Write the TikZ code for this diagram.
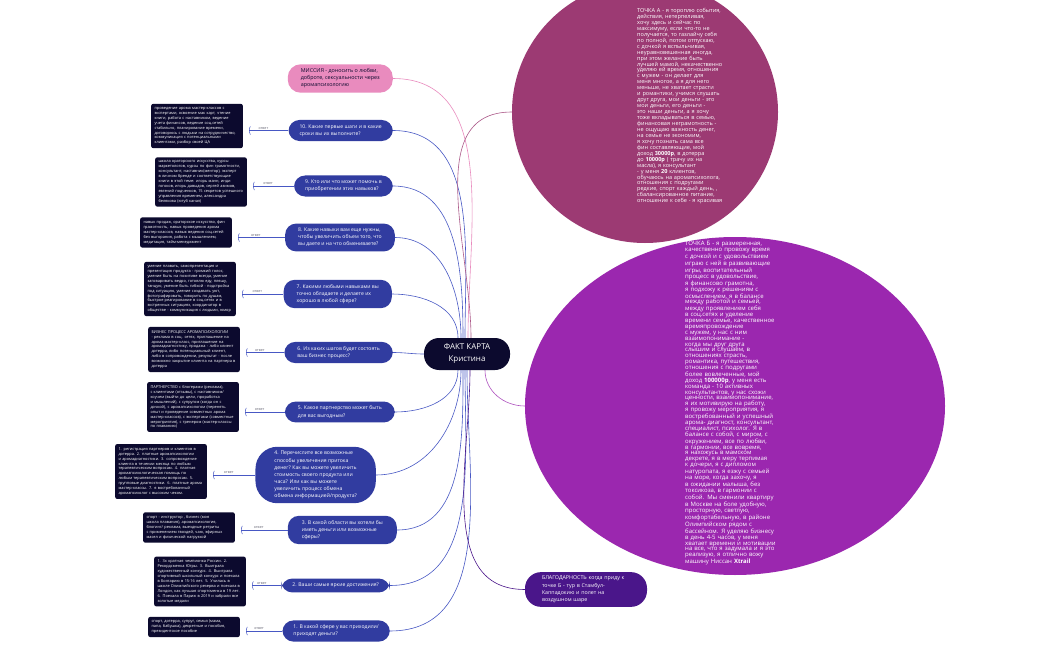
\documentclass[tikz,border=0pt]{standalone}
\usepackage{fontspec}
\setmainfont{Open Sans}
\usepackage{tikz}
\usetikzlibrary{arrows.meta, positioning, shapes.geometric}
\definecolor{FKNavy}{RGB}{12, 10, 46}
\definecolor{FKBlue}{RGB}{49, 60, 160}
\definecolor{FKLine}{RGB}{72, 88, 196}
\definecolor{FKPink}{RGB}{233, 139, 190}
\definecolor{FKPointA}{RGB}{156, 58, 115}
\definecolor{FKPointB}{RGB}{155, 39, 175}
\definecolor{FKThanks}{RGB}{74, 22, 138}
\definecolor{FKLabel}{RGB}{100, 100, 115}

\tikzset{
  question/.style={fill=FKBlue, text=white, rounded corners=11pt, align=left, anchor=east,
    inner xsep=11pt, inner ysep=4.5pt, font=\fontsize{5.1}{7.1}\selectfont},
  answer/.style={fill=FKNavy, text=white, rounded corners=2pt, align=left, anchor=east,
    text width=85pt, inner sep=3.3pt, font=\fontsize{3.9}{4.95}\selectfont},
  reply/.style={draw=FKLine, line width=0.5pt, -{Parenthesis[width=10pt,length=2.5pt]}, shorten >=6pt},
  replylabel/.style={text=FKLabel, font=\fontsize{3.6}{4}\selectfont, above=1.2pt, inner sep=0pt, pos=0.55},
  branch/.style={draw=FKLine, line width=0.6pt},
  pointshape/.style={ellipse, inner sep=0pt},
  pointtext/.style={text=white, align=left, anchor=north west, inner sep=0pt},
}

\begin{document}
\begin{tikzpicture}[x=1pt,y=-1pt]
  \path[use as bounding box] (0,0) rectangle (1050,650);
  \clip (0,0) rectangle (1050,650);
  \fill[white] (0,0) rectangle (1050,650);

  % Точка А
  \node[pointshape, fill=FKPointA, minimum width=266pt, minimum height=262pt] (pointA) at (645,112) {};
  \node[pointtext, text width=87pt, font=\fontsize{5.55}{5.95}\selectfont] (pointAtext) at (637,8) {ТОЧКА А - я тороплю события, действия, нетерпеливая, хочу здесь и сейчас по максимуму, если что-то не получается, то газлайчу себя по полной, потом отпускаю, с дочкой я вспыльчивая, неуравновешенная иногда, при этом желание быть лучшей мамой, некачественно уделяю ей время, отношения с мужем - он делает для меня многое, а я для него меньше, не хватает страсти и романтики, учимся слушать друг друга, мои деньги - это мои деньги, его деньги - это наши деньги, а я хочу тоже вкладываться в семью, финансовая неграмотность - не ощущаю важность денег, на семье не экономим, я хочу познать сама все фин составляющие, мой доход {\bfseries 30000р}, в дотерра до {\bfseries 10000р} ( трачу их на масла), я консультант - у меня {\bfseries 20} клиентов, обучаюсь на аромапсихолога, отношения с подругами редкие, спорт каждый день, , сбалансированное питание, отношение к себе - я красивая};

  % Точка Б
  \node[pointshape, fill=FKPointB, minimum width=420pt, minimum height=338pt] (pointB) at (735,406) {};
  \node[pointtext, text width=91pt, font=\fontsize{6.0}{5.85}\selectfont] (pointBtext) at (685,241) {ТОЧКА Б - я размеренная, качественно провожу время с дочкой и с удовольствием играю с ней в развивающие игры, воспитательный процесс в удовольствие, я финансово грамотна, я подхожу к решениям с осмыслением, я в балансе между работой и семьей, между проявлением себя в соц.сетях и уделение времени семье, качественное времяпровождение с мужем, у нас с ним взаимопонимание - когда мы друг друга слышим и слушаем, в отношениях страсть, романтика, путешествия, отношения с подругами более вовлеченные, мой доход {\bfseries 100000р}, у меня есть команда - 10 активных консультантов, у нас схожи ценности, взаимопонимание, я их мотивирую на работу, я провожу мероприятия, я востребованный и успешный арома- диагност, консультант, специалист, психолог. Я в балансе с собой, с миром, с окружением, все по любви, в гармонии, все вовремя, я нахожусь в мамском декрете, я в меру терпимая к дочери, я с дипломом натуропата, я езжу с семьей на море, когда захочу, я в ожидании малыша, без токсикоза, в гармонии с собой. Мы сменили квартиру в Москве на боле удобную, просторную, светлую, комфортабельную, в районе Олимпийском рядом с бассейном. Я уделяю бизнесу в день 4-5 часов, у меня хватает времени и мотивации на все, что я задумала и я это реализую, я отлично вожу машину Ниссан {\bfseries Xtrail}};

  % Центр
  \node[fill=FKNavy, text=white, rounded corners=15pt, align=center, minimum width=86pt,
        minimum height=32pt, font=\fontsize{8}{12}\selectfont] (fact) at (467,354) {ФАКТ КАРТА\\Кристина};

  % Миссия и благодарность
  \node[fill=FKPink, text=FKNavy, rounded corners=13pt, align=left, anchor=east, inner xsep=13pt,
        inner ysep=4.5pt, font=\fontsize{5.4}{7}\selectfont] (mission) at (393,78.5)
        {МИССИЯ - доносить о любви,\\доброте, сексуальности через\\аромапсихологию};
  \node[fill=FKThanks, text=white, rounded corners=16pt, align=left, inner xsep=17pt, inner ysep=4pt,
        text width=88pt, font=\fontsize{5.3}{7.2}\selectfont] (thanks) at (586,589.5)
        {БЛАГОДАРНОСТЬ когда приду к\\точке Б - тур в Стамбул-\\Каппадокию и полет на\\воздушном шаре};

  % Вопросы
  \node[question] (q10) at (393,130.5) {10. Какие первые шаги и в какие\\сроки вы их выполните?};
  \node[question] (q9) at (393,186) {9. Кто или что может помочь в\\приобретении этих навыков?};
  \node[question, inner xsep=13pt] (q8) at (395,237.5) {8. Какие навыки вам еще нужны,\\чтобы увеличить объем того, что\\вы даете и на что обмениваете?};
  \node[question, inner xsep=13pt] (q7) at (392,294) {7. Какими любыми навыками вы\\точно обладаете и делаете их\\хорошо в любой сфере?};
  \node[question, inner xsep=13pt] (q6) at (393,352.5) {6. Из каких шагов будет состоять\\ваш бизнес процесс?};
  \node[question, inner xsep=13pt] (q5) at (395,412) {5. Какое партнерство может быть\\для вас выгодным?};
  \node[question, inner xsep=19pt, rounded corners=22pt] (q4) at (376,475) {4. Перечислите все возможные\\способы увеличения притока\\денег? Как вы можете увеличить\\стоимость своего продукта или\\часа? Или как вы можете\\увеличить процесс обмена\\обмена информацией/продукта?};
  \node[question, inner xsep=14pt] (q3) at (397,530) {3. В какой области вы хотели бы\\иметь деньги или возможные\\сферы?};
  \node[question] (q2) at (390,585.5) {2. Ваши самые яркие достижения?};
  \node[question] (q1) at (390,631) {1. В какой сфере у вас приходили/\\приходят деньги?};

  % Ответы
  \node[answer] (a10) at (243,126) {проведение арома мастер-классов с экспертами, освоение мак карт, чтение книги, работа с наставником, ведение учета финансов, ведение соц.сетей стабильно, планирование времени, договорюсь с людьми на сотрудничество, коммуникация с потенциальными клиентами, разбор своей ЦА};
  \node[answer] (a9) at (247,182) {школа ораторского искусства, курсы маркетологов, курсы по фин грамотности, консультант, наставник(ментор), эксперт в личном бренде и соответствующие книги в этой теме: игорь манн, инди гогоков, игорь давыдов, сергей азимов, евгений подченков, 15 секретов успешного управления временем, александра белякова (ютуб канал)};
  \node[answer] (a8) at (232,232.5) {навык продаж, ораторское искусство, фин грамотность, навык проведения арома мастер-классов, навык ведения соц.сетей без выгорания, работа с мышлением, медитация, тайм-менеджмент};
  \node[answer] (a7) at (236,289) {умение плавать, самопрезентация и презентация продукта - громкий голос, умение быть на позитиве всегда, умение заговаривать ведро, готовлю еду, пляшу, танцую, умение быть гибкой - подстройка под ситуацию, умение создавать уют, фотографировать, говорить по душам, быстрое реагирование в соц.сетях и в экстренных ситуациях, координатор в обществе - коммуникация с людьми, юмор};
  \node[answer] (a6) at (240,349.5) {БИЗНЕС ПРОЦЕСС АРОМАПСИХОЛОГИИ - реклама в соц. сетях, приглашение на арома мастер-класс, приглашение на аромадиагностику, продажа - либо клиент дотерра, либо потенциальный клиент, либо в сопровождении, результат - после возможно закрытие клиента на партнера в дотерра};
  \node[answer] (a5) at (239,407) {ПАРТНЕРСТВО с блогерами (реклама), с клиентами (отзывы), с наставником/ коучем (выйти до цели, проработка и мышлений), с супругом (когда он с дочкой), с аромапсихологом (перенять опыт и проведение совместных арома мастер-классов), с экспертами (совместные мероприятия), с тренером (мастер-классы по плаванию)};
  \node[answer] (a4) at (207,471.5) {1. регистрация партнеров и клиентов в дотерра. 2. платные аромапсихологии и аромадиагностики. 3. сопровождение клиента в течении месяца по любым терапевтическим вопросам. 4. платная аромапсихологическая помощь по любым терапевтическим вопросам. 5. групповые диагностики. 6. платные арома мастер-классы. 7. я востребованный аромапсихолог с высоким чеком.};
  \node[answer] (a3) at (235,527.5) {спорт - инструктор , бизнес (моя школа плавания), аромапсихология, блогинг/ реклама, выездные ретриты с применением гвоздей, чаю, эфирных масел и физической нагрузкой};
  \node[answer] (a2) at (246,581.5) {1. 3х кратная чемпионка России. 2. Рекордсменка Югры. 3. Выиграла художественный конкурс. 4. Выиграла спортивный школьный конкурс и поехала в Болгарию в 15-16 лет. 5. Училась в школе Олимпийского резерва и поехала в Лондон, как лучшая спортсменка в 19 лет. 6. Поехала в Париж в 2019 и забрали все золотые медали};
  \node[answer] (a1) at (240,627) {спорт, дотерра, супруг, семья (мама, папа, бабушка), декретные и пособия, президентское пособие};

  % Ответ -> вопрос
  \draw[reply] (q10.west) -- node[replylabel] {ответ} (q10.west -| a10.east);
  \draw[reply] (q9.west) -- node[replylabel] {ответ} (q9.west -| a9.east);
  \draw[reply] (q8.west) -- node[replylabel] {ответ} (q8.west -| a8.east);
  \draw[reply] (q7.west) -- node[replylabel] {ответ} (q7.west -| a7.east);
  \draw[reply] (q6.west) -- node[replylabel] {ответ} (q6.west -| a6.east);
  \draw[reply] (q5.west) -- node[replylabel] {ответ} (q5.west -| a5.east);
  \draw[reply] (q4.west) -- node[replylabel] {ответ} (q4.west -| a4.east);
  \draw[reply] (q3.west) -- node[replylabel] {ответ} (q3.west -| a3.east);
  \draw[reply] (q2.west) -- node[replylabel] {ответ} (q2.west -| a2.east);
  \draw[reply] (q1.west) -- node[replylabel] {ответ} (q1.west -| a1.east);

  % Ветви от центра
  \draw[branch] (fact.west) to[out=180,in=0] (q6.east);
  \draw[branch] ([xshift=-9pt]fact.north) to[out=90,in=0] (q7.east);
  \draw[branch] ([xshift=-6pt]fact.north) to[out=90,in=0] (q8.east);
  \draw[branch] ([xshift=-4pt]fact.north) to[out=90,in=0] (q9.east);
  \draw[branch] ([xshift=-2pt]fact.north) to[out=90,in=0] (q10.east);
  \draw[branch, draw=FKPink] ([xshift=1pt]fact.north) to[out=90,in=0] (mission.east);
  \draw[branch, draw=FKPointA!85!white] ([xshift=4pt]fact.north) to[out=90,in=180] (pointA.west);
  \draw[branch] ([xshift=-9pt]fact.south) to[out=-90,in=0] (q5.east);
  \draw[branch] ([xshift=-6pt]fact.south) to[out=-90,in=0] (q4.east);
  \draw[branch] ([xshift=-4pt]fact.south) to[out=-90,in=0] (q3.east);
  \draw[branch] ([xshift=-2pt]fact.south) to[out=-90,in=0] (q2.east);
  \draw[branch] (fact.south) to[out=-90,in=0] (q1.east);
  \draw[branch, draw=FKThanks] ([xshift=3pt]fact.south) to[out=-90,in=180] (thanks.west);
  \draw[branch, draw=FKPointB!80!white] ([xshift=18pt]fact.south) to[out=-90,in=180] (pointB.west);
\end{tikzpicture}
\end{document}
